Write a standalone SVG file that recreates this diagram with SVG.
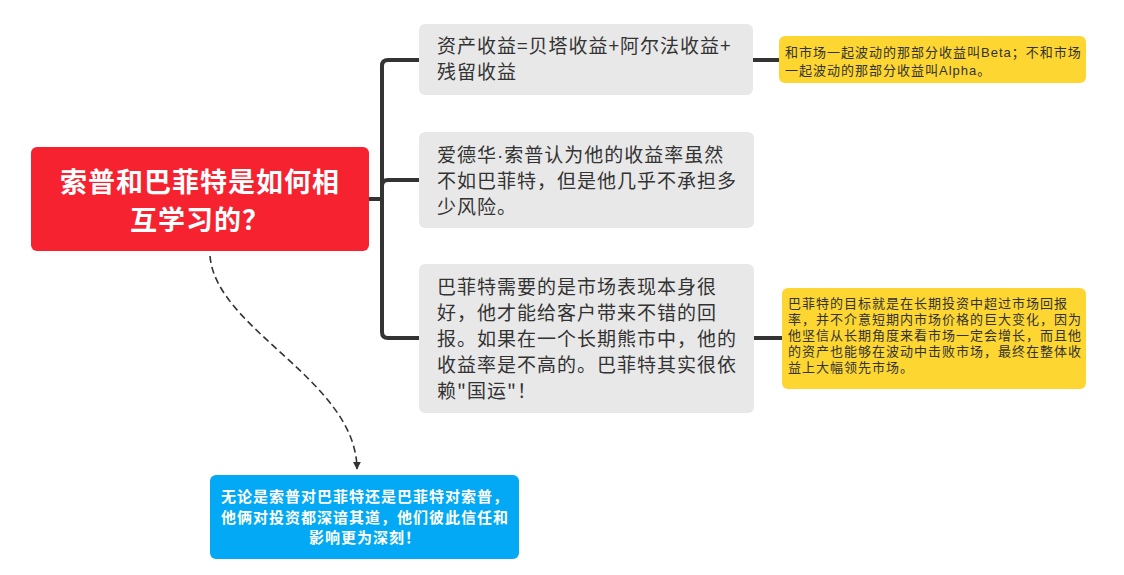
<svg xmlns="http://www.w3.org/2000/svg" width="1124" height="575" viewBox="0 0 1124 575">
<defs>
<style>
.t{font-family:"Noto Sans CJK SC","Liberation Sans",sans-serif;}
.l{font-family:"Liberation Sans","Noto Sans CJK SC",sans-serif;}
.main{font-size:27px;font-weight:bold;fill:#ffffff;letter-spacing:1px;}
.sub{font-size:19px;fill:#333333;letter-spacing:1px;}
.note{font-size:13px;fill:#333333;letter-spacing:1px;}
.blue{font-size:15px;font-weight:bold;fill:#ffffff;letter-spacing:1px;}
.conn{fill:none;stroke:#333333;stroke-width:4;}
.grey{fill:#e8e8e8;}
.yel{fill:#fdd631;}
</style>
<marker id="arr" viewBox="0 0 10 10" refX="9" refY="5" markerWidth="8" markerHeight="8" markerUnits="userSpaceOnUse" orient="auto">
<path d="M0,0 L10,5 L0,10 Z" fill="#333333"/>
</marker>
</defs>
<rect width="1124" height="575" fill="#ffffff"/>
<g id="connectors">
<path class="conn" d="M369,199 H382 V66 Q382,60 388,60 H420"/>
<path class="conn" d="M369,199 H382 V186 Q382,180 388,180 H420"/>
<path class="conn" d="M369,199 H382 V332 Q382,338 388,338 H420"/>
<path class="conn" d="M752,60 H780" stroke-width="3"/>
<path class="conn" d="M754,338 H783" stroke-width="3"/>
<path d="M210,256 C216,330 356,380 357,469" fill="none" stroke="#333333" stroke-width="1.6" stroke-dasharray="7,4" marker-end="url(#arr)"/>
</g>
<g id="central">
<rect x="31" y="147" width="338" height="104" rx="6" fill="#f7222f"/>
<text class="t main" text-anchor="middle" x="200" y="192">索普和巴菲特是如何相</text>
<text class="t main" text-anchor="middle" x="200" y="230">互学习的？</text>
</g>
<g id="node1">
<rect class="grey" x="419" y="24" width="334" height="71" rx="6"/>
<text class="t sub" x="437" y="53">资产收益=贝塔收益+阿尔法收益+</text>
<text class="t sub" x="437" y="79">残留收益</text>
</g>
<g id="node2">
<rect class="grey" x="419" y="132" width="335" height="96" rx="6"/>
<text class="t sub" x="437" y="162">爱德华<tspan class="l">·</tspan>索普认为他的收益率虽然</text>
<text class="t sub" x="437" y="188">不如巴菲特，但是他几乎不承担多</text>
<text class="t sub" x="437" y="214">少风险。</text>
</g>
<g id="node3">
<rect class="grey" x="419" y="264" width="335" height="149" rx="6"/>
<text class="t sub" x="437" y="294">巴菲特需要的是市场表现本身很</text>
<text class="t sub" x="437" y="320">好，他才能给客户带来不错的回</text>
<text class="t sub" x="437" y="346">报。如果在一个长期熊市中，他的</text>
<text class="t sub" x="437" y="372">收益率是不高的。巴菲特其实很依</text>
<text class="t sub" x="437" y="398">赖"国运"！</text>
</g>
<g id="note1">
<rect class="yel" x="779" y="36" width="307" height="47" rx="6"/>
<text class="l note" x="785" y="56.5">和市场一起波动的那部分收益叫Beta；不和市场</text>
<text class="l note" x="785" y="74.5">一起波动的那部分收益叫Alpha。</text>
</g>
<g id="note2">
<rect class="yel" x="782" y="288" width="304" height="101" rx="6"/>
<text class="l note" x="788" y="307.5">巴菲特的目标就是在长期投资中超过市场回报</text>
<text class="l note" x="788" y="323.5">率，并不介意短期内市场价格的巨大变化，因为</text>
<text class="l note" x="788" y="339.5">他坚信从长期角度来看市场一定会增长，而且他</text>
<text class="l note" x="788" y="355.5">的资产也能够在波动中击败市场，最终在整体收</text>
<text class="l note" x="788" y="371.5">益上大幅领先市场。</text>
</g>
<g id="summary">
<rect x="210" y="475" width="309" height="84" rx="6" fill="#03a9f4"/>
<text class="t blue" text-anchor="middle" x="365" y="502">无论是索普对巴菲特还是巴菲特对索普，</text>
<text class="t blue" text-anchor="middle" x="365" y="523">他俩对投资都深谙其道，他们彼此信任和</text>
<text class="t blue" text-anchor="middle" x="365" y="543">影响更为深刻！</text>
</g>
</svg>
